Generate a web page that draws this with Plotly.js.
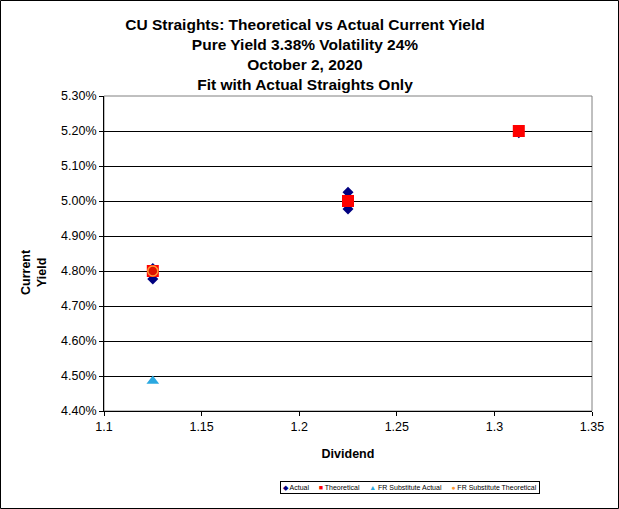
<!DOCTYPE html>
<html><head><meta charset="utf-8">
<script src="https://cdn.plot.ly/plotly-3.0.1.min.js"></script>
<style>html,body{margin:0;padding:0;background:#fff}#chart{width:619px;height:509px}</style>
</head><body><div id="chart"></div>
<script>
// ---- data ----
const actualDividend = [1.125, 1.125, 1.225, 1.225, 1.3125];
const actualYield = [4.807, 4.777, 5.025, 4.977, 5.195];
const theoDividend = [1.125, 1.225, 1.3125];
const theoYield = [4.80, 5.00, 5.20];
const frActualDividend = [1.125];
const frActualYield = [4.486];
const frTheoDividend = [1.125];
const frTheoYield = [4.80];
const seriesNames = ['Actual', 'Theoretical', 'FR Substitute Actual', 'FR Substitute Theoretical'];
const xTickVals = [1.1, 1.15, 1.2, 1.25, 1.3, 1.35];
const xTickText = ['1.1', '1.15', '1.2', '1.25', '1.3', '1.35'];
const yTickVals = [4.4, 4.5, 4.6, 4.7, 4.8, 4.9, 5.0, 5.1, 5.2, 5.3];
const yTickText = ['4.40%', '4.50%', '4.60%', '4.70%', '4.80%', '4.90%', '5.00%', '5.10%', '5.20%', '5.30%'];
const titleLines = ['CU Straights: Theoretical vs Actual Current Yield', 'Pure Yield 3.38% Volatility 24%', 'October 2, 2020', 'Fit with Actual Straights Only'];

// ---- styles ----
const colors = ['#000080', '#ff0000', '#2aa8e0', '#ff9933'];
const F = 'Arial, Liberation Sans, sans-serif';

const traces = [
  {x: actualDividend, y: actualYield, name: seriesNames[0], type: 'scatter', mode: 'markers',
   marker: {symbol: 'diamond', size: 8.5, color: colors[0]}},
  {x: theoDividend, y: theoYield, name: seriesNames[1], type: 'scatter', mode: 'markers',
   marker: {symbol: 'square', size: 12, color: colors[1]}},
  {x: frActualDividend, y: frActualYield, name: seriesNames[2], type: 'scatter', mode: 'markers',
   marker: {symbol: 'triangle-up', size: 11, color: colors[2]}},
  {x: frTheoDividend, y: frTheoYield, name: seriesNames[3], type: 'scatter', mode: 'markers',
   marker: {symbol: 'circle', size: 10, color: '#dd1100', line: {color: colors[3], width: 1.5}}}
];

const glyphs = ['\u25C6', '\u25A0', '\u25B2', '\u25CF'];
const legendText = seriesNames.map((n, i) =>
  `<span style="color:${colors[i]}">${glyphs[i]}</span> ${n}`).join('&nbsp;&nbsp;&nbsp;&nbsp;&nbsp;');

const L = 104, R = 592, T = 96, B = 411, W = 619, H = 509;
const px = v => (v - L) / (R - L);
const py = v => (B - v) / (B - T);
const tf = {family: F, size: 12.5, color: '#000'};

const layout = {
  width: W, height: H,
  margin: {l: L, r: W - R, t: T, b: H - B, pad: 0},
  paper_bgcolor: '#fff', plot_bgcolor: '#fff',
  showlegend: false,
  font: {family: F, color: '#000'},
  title: {text: titleLines.map(t => '<b>' + t + '</b>').join('<br>'),
          font: {family: F, size: 15.5, color: '#000'},
          xref: 'container', x: 305 / W, xanchor: 'center',
          yref: 'container', y: 1 - 30 / H, yanchor: 'top'},
  xaxis: {range: [1.1, 1.35], tickvals: xTickVals, ticktext: xTickText,
          showgrid: false, zeroline: false, showline: true, linecolor: '#000', linewidth: 1,
          ticks: 'outside', ticklen: 4, tickcolor: '#000', tickfont: tf,
          title: {text: '<b>Dividend</b>', font: {family: F, size: 12.5}, standoff: 16}},
  yaxis: {range: [4.4, 5.3], tickvals: yTickVals, ticktext: yTickText,
          showgrid: true, gridcolor: '#000', gridwidth: 1, zeroline: false,
          showline: true, linecolor: '#000', linewidth: 1,
          ticks: 'outside', ticklen: 4, tickcolor: '#000', tickfont: tf},
  xaxis2: {overlaying: 'x', range: [1.1, 1.35], tickvals: xTickVals, showticklabels: false,
           showgrid: false, zeroline: false, showline: false, ticks: 'inside', ticklen: 4,
           tickcolor: '#000', anchor: 'y', side: 'bottom'},
  yaxis2: {overlaying: 'y', range: [4.4, 5.3], tickvals: yTickVals, showticklabels: false,
           showgrid: false, zeroline: false, showline: false, ticks: 'inside', ticklen: 4,
           tickcolor: '#000', anchor: 'x', side: 'left'},
  shapes: [
    {type: 'rect', xref: 'paper', yref: 'paper', x0: 0, x1: 1, y0: 0, y1: 1,
     line: {color: '#808080', width: 1}, layer: 'below'},
    {type: 'rect', xref: 'paper', yref: 'paper', x0: px(0.5), x1: px(W - 0.5), y0: py(H - 0.5), y1: py(0.5),
     line: {color: '#000', width: 1}}
  ],
  annotations: [
    {text: '<b>Current<br>Yield</b>', xref: 'paper', yref: 'paper', x: px(34), y: py(272),
     xanchor: 'center', yanchor: 'middle', textangle: -90, showarrow: false,
     font: {family: F, size: 12.5, color: '#000'}},
    {text: legendText, xref: 'paper', yref: 'paper', x: px(410), y: py(487.5),
     xanchor: 'center', yanchor: 'middle', showarrow: false,
     font: {family: F, size: 7, color: '#000'}, bordercolor: '#000', borderwidth: 1, borderpad: 2, bgcolor: '#fff'}
  ]
};

Plotly.newPlot('chart', traces, layout, {displayModeBar: false, staticPlot: true});
</script></body></html>
